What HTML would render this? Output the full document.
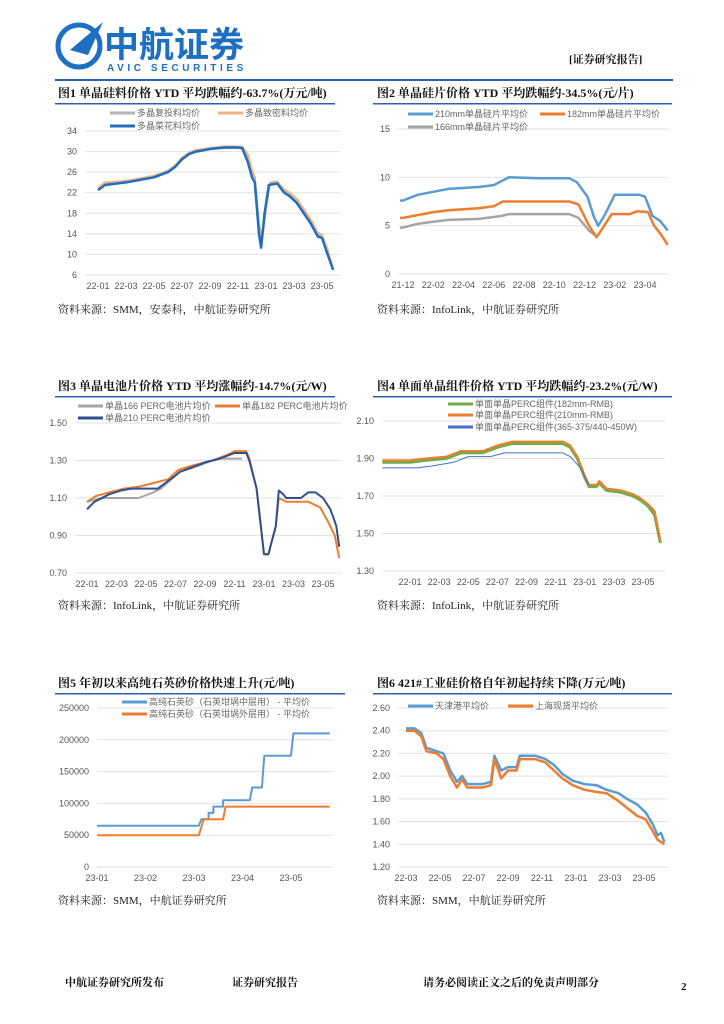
<!DOCTYPE html>
<html><head><meta charset="utf-8">
<style>
body{margin:0;background:#fff;}
svg{display:block;font-family:"Liberation Sans","Noto Sans CJK SC",sans-serif;}
.t{font-family:"Liberation Serif","Noto Serif CJK SC",serif;font-weight:bold;font-size:12px;fill:#111;}
.src{font-family:"Liberation Serif","Noto Serif CJK SC",serif;font-size:11px;fill:#222;}
.ax{font-size:9px;fill:#555;}
.lg{font-size:9px;fill:#666;}
.ft{font-family:"Liberation Serif","Noto Serif CJK SC",serif;font-weight:bold;font-size:11px;fill:#111;}
</style></head><body>
<svg id="page" width="724" height="1024" viewBox="0 0 724 1024">
<g>
  <circle cx="79" cy="46" r="21" fill="none" stroke="#1d6fc2" stroke-width="5"/>
  <path d="M70 50 L103 22 L88 55 Z" fill="#1d6fc2"/>
  <text x="104" y="57" font-size="35" font-weight="bold" fill="#1d6fc2" font-family="'Noto Sans CJK SC',sans-serif">中航证券</text>
  <text x="107" y="71" font-size="10" fill="#1d6fc2" letter-spacing="3.6" font-weight="bold">AVIC SECURITIES</text>
  <text x="569" y="63" class="ft" font-size="12">[证券研究报告]</text>
  <rect x="55" y="79" width="618" height="2" fill="#2e5fae"/>
</g>
<g id="charts"></g>
<g>
  <text x="65" y="986" class="ft">中航证券研究所发布</text>
  <text x="232" y="986" class="ft">证券研究报告</text>
  <text x="423" y="986" class="ft">请务必阅读正文之后的免责声明部分</text>
  <text x="681" y="990" class="ft" font-weight="normal">2</text>
</g>
</svg>
<script>
// ---------- Chart 1 data ----------
const c1Ticks=[34,30,26,22,18,14,10,6];
const c1XLabels=["22-01","22-03","22-05","22-07","22-09","22-11","23-01","23-03","23-05"];
const c1X_blue=[0,0.5,2,3,4,4.5,5,5.5,6,6.5,7,8,9,10,10.3,10.7,11.0,11.2,11.5,11.65,11.9,12.2,12.8,13.3,13.7,14.2,14.7,15.2,15.7,16.0,16.4,16.8];
const c1Y_blue=[22.5,23.5,24,24.5,25,25.5,26,27,28.5,29.5,30,30.5,30.8,30.8,30.7,28,25,24,14,11.3,18,23.5,23.8,22,21.3,20,18,16,13.5,13.2,10,7];
const c1X_gray=[0,0.5,2,3,4,4.5,5,5.5,6,6.5,7,8,9,10,10.3,10.7,11.0,11.2,11.5,11.7,12.0,12.3,12.8,13.3,13.7,14.2,14.7,15.2,15.7,16.0,16.4];
const c1Y_gray=[23,23.8,24.2,24.6,25,25.6,26,27,28.5,29.5,30.2,30.5,30.7,30.7,30.6,29,26,25,16,13,19,23.8,24,22.5,21.8,20.5,18.5,16.5,14,13.6,11];
const c1X_orange=[0,0.5,2,3,4,4.5,5,5.5,6,6.5,7,8,9,10,10.3,10.7,11.0,11.2,11.5,11.7,12.0,12.3,12.8,13.3,13.7,14.2,14.7,15.2,15.7,16.0,16.4,16.7];
const c1Y_orange=[23,24,24.3,24.8,25.3,25.8,26.3,27.3,28.8,29.8,30.3,30.7,31,31,30.9,29.5,26.5,25,15.5,12.5,19,24,24.2,22.6,22,20.8,18.8,16.8,14.2,13.8,11,8];
// ---------- Chart 2 data ----------
const c2Ticks=[15,10,5,0];
const c2XLabels=["21-12","22-02","22-04","22-06","22-08","22-10","22-12","23-02","23-04"];
const c2X_210=[-0.2,0,1,2,3,5,6,6.5,7,9,11,11.5,12.2,12.6,12.9,13.3,14,15.6,16,16.5,17,17.5];
const c2Y_210=[7.6,7.6,8.2,8.5,8.8,9,9.2,9.6,10,9.9,9.9,9.5,8,6,5,6,8.2,8.2,8,6,5.5,4.5];
const c2X_182=[-0.2,0,1,2,3,5,6,6.6,11,11.6,12.3,12.8,13.3,13.8,15,15.5,16.2,16.6,17.1,17.5];
const c2Y_182=[5.8,5.8,6.1,6.4,6.6,6.8,7.0,7.5,7.5,7.2,5,3.8,5,6.2,6.2,6.5,6.4,5,4,3];
const c2X_166=[-0.2,0,1,2,3,5,6.5,7,11,11.6,12.3,12.7];
const c2Y_166=[4.8,4.8,5.2,5.4,5.6,5.7,6,6.2,6.2,5.8,4.5,4.0];
// ---------- Chart 3 data ----------
const c3Ticks=[1.50,1.30,1.10,0.90,0.70];
const c3XLabels=["22-01","22-03","22-05","22-07","22-09","22-11","23-01","23-03","23-05"];
const c3X_210=[0,0.5,1.5,2.3,3,4.8,6.0,6.3,7,8,9,10,10.8,11.0,11.5,12.0,12.3,12.8,13.0,13.3,13.5,14.5,15,15.5,16,16.5,16.9,17.1];
const c3Y_210=[1.04,1.08,1.12,1.14,1.15,1.15,1.22,1.24,1.26,1.29,1.31,1.34,1.34,1.30,1.15,0.80,0.80,0.95,1.14,1.12,1.10,1.10,1.13,1.13,1.10,1.04,0.95,0.84];
const c3X_182=[0,0.6,1.5,2.5,3.5,4.5,5.5,6.2,7,8.5,9.5,10,10.8,11.0,11.5,12.0,12.3,12.8,13.0,13.5,15,15.8,16.3,16.8,17.1];
const c3Y_182=[1.08,1.11,1.13,1.15,1.16,1.18,1.20,1.25,1.27,1.30,1.33,1.35,1.35,1.31,1.15,0.80,0.80,0.95,1.10,1.08,1.08,1.05,0.98,0.90,0.78];
const c3X_166=[0,1,3.5,4.5,5.0,6.3,7.5,8.5,9,10.5];
const c3Y_166=[1.08,1.10,1.10,1.13,1.15,1.24,1.27,1.30,1.31,1.31];
// ---------- Chart 4 data ----------
const c4Ticks=[2.10,1.90,1.70,1.50,1.30];
const c4XLabels=["22-01","22-03","22-05","22-07","22-09","22-11","23-01","23-03","23-05"];
const c4X_182=[-1.9,0,1,2.5,3.5,5,6,7,10.5,11,11.5,12,12.3,12.8,13,13.5,14.5,15.3,15.8,16.3,16.8,17.2];
const c4Y_182=[1.88,1.88,1.89,1.90,1.93,1.93,1.96,1.98,1.98,1.96,1.90,1.80,1.75,1.75,1.77,1.73,1.72,1.70,1.68,1.65,1.60,1.45];
const c4X_210=[-1.9,0,1,2.5,3.5,5,6,7,10.5,11,11.5,12,12.3,12.8,13,13.5,14.5,15.3,15.8,16.3,16.8,17.2];
const c4Y_210=[1.89,1.89,1.90,1.91,1.94,1.94,1.97,1.99,1.99,1.97,1.91,1.81,1.76,1.76,1.78,1.74,1.73,1.71,1.69,1.66,1.62,1.46];
const c4X_w=[-1.9,0.5,1.5,3,4,5.5,6.5,10.5,11,11.7,12.3];
const c4Y_w=[1.85,1.85,1.86,1.88,1.91,1.91,1.93,1.93,1.91,1.85,1.76];
// ---------- Chart 5 data ----------
const c5Ticks=[250000,200000,150000,100000,50000,0];
const c5XLabels=["23-01","23-02","23-03","23-04","23-05"];
const c5X_mid=[0,2.1,2.15,2.3,2.3,2.4,2.4,2.6,2.6,3.15,3.2,3.4,3.45,4.0,4.05,4.8];
const c5Y_mid=[65000,65000,75000,75000,85000,85000,95000,95000,105000,105000,125000,125000,175000,175000,210000,210000];
const c5X_out=[0,2.1,2.2,2.6,2.65,4.8];
const c5Y_out=[50000,50000,75000,75000,95000,95000];
// ---------- Chart 6 data ----------
const c6Ticks=[2.60,2.40,2.20,2.00,1.80,1.60,1.40,1.20];
const c6XLabels=["22-03","22-05","22-07","22-09","22-11","23-01","23-03","23-05"];
const c6X_tj=[0,0.5,0.9,1.2,1.8,2.2,2.6,3.0,3.3,3.6,4.5,5.0,5.2,5.6,6,6.5,6.7,7.6,8.2,8.7,9.2,9.8,10.5,11.2,11.8,12.5,13,13.6,14.1,14.5,14.8,15.0,15.2];
const c6Y_tj=[2.42,2.42,2.38,2.25,2.22,2.20,2.05,1.95,2.00,1.93,1.93,1.95,2.18,2.05,2.08,2.08,2.18,2.18,2.15,2.10,2.02,1.96,1.93,1.92,1.88,1.85,1.80,1.75,1.68,1.58,1.48,1.50,1.42];
const c6X_sh=[0,0.5,0.9,1.2,1.8,2.2,2.6,3.0,3.3,3.6,4.5,5.0,5.2,5.6,6,6.5,6.7,7.6,8.2,8.7,9.2,9.8,10.5,11.2,11.8,12.5,13,13.6,14.1,14.5,14.8,15.0,15.2];
const c6Y_sh=[2.40,2.40,2.35,2.22,2.20,2.15,2.00,1.90,1.97,1.90,1.90,1.92,2.15,1.98,2.05,2.05,2.15,2.15,2.12,2.05,1.98,1.92,1.88,1.86,1.85,1.78,1.72,1.65,1.62,1.52,1.44,1.42,1.40];

const NS="http://www.w3.org/2000/svg";
const root=document.getElementById('charts');
function mk(tag,attrs,parent){const e=document.createElementNS(NS,tag);for(const k in attrs)e.setAttribute(k,attrs[k]);(parent||root).appendChild(e);return e;}

function chart(cfg){
  const g=mk('g',{});
  
  
  const tt=mk('text',{x:cfg.tx,y:cfg.ty,class:'t'},g);tt.textContent=cfg.title;
  
  
  const rule=mk('rect',{x:cfg.rx0,y:cfg.ty+6,width:cfg.rx1-cfg.rx0,height:1.5,fill:'#2e5fae'},g);
  
  
  const ymin=cfg.ticks[cfg.ticks.length-1],ymax=cfg.ticks[0];
  const yS=v=>cfg.yb+(v-ymin)/(ymax-ymin)*(cfg.yt-cfg.yb);
  const xS=v=>cfg.x0+v*cfg.dx;
  cfg.ticks.forEach(t=>{
    const y=yS(t);
    const gl=mk('line',{x1:cfg.gx0,x2:cfg.gx1,y1:y,y2:y,stroke:'#e2e2e2','stroke-width':1},g);
    
    
    const lb=mk('text',{x:cfg.gx0-8,y:y+3,'text-anchor':'end',class:'ax'},g);lb.textContent=cfg.fmt(t);
    
    
  });
  cfg.xlabels.forEach((l,i)=>{
    const lb=mk('text',{x:xS(i*cfg.xstep),y:cfg.yb+14,'text-anchor':'middle',class:'ax'},g);lb.textContent=l;
    
    
  });
  cfg.series.forEach(s=>{
    const d=s.xs.map((x,i)=>(i?'L':'M')+xS(x).toFixed(1)+' '+yS(s.ys[i]).toFixed(1)).join(' ');
    const p=mk('path',{d:d,fill:'none',stroke:s.c,'stroke-width':s.w,'stroke-linejoin':'round'},g);
    
    
    const ll=mk('line',{x1:s.lx,x2:s.lx+25,y1:s.ly,y2:s.ly,stroke:s.c,'stroke-width':Math.max(s.w,3)},g);
    
    
    const lt=mk('text',{x:s.lx+27,y:s.ly+3,class:'lg'},g);lt.textContent=s.label;
    
    
  });
  const sr=mk('text',{x:cfg.tx,y:cfg.sy,class:'src'},g);sr.textContent=cfg.src;
  
  
}
const f0=v=>String(v), f2=v=>v.toFixed(2);

chart({name:'chart-polysilicon',title:'图1  单晶硅料价格 YTD 平均跌幅约-63.7%(万元/吨)',tx:58,ty:97,rx0:55,rx1:335,
 ticks:c1Ticks,yt:131,yb:275,gx0:85,gx1:340,fmt:f0,xlabels:c1XLabels,x0:98,dx:14,xstep:2,sy:313,
 src:'资料来源：SMM，安泰科，中航证券研究所',
 series:[
  {name:'line-recharge',xs:c1X_gray,ys:c1Y_gray,c:'#b4b4b4',w:2,lx:110,ly:113,label:'多晶复投料均价'},
  {name:'line-dense',xs:c1X_orange,ys:c1Y_orange,c:'#f4b183',w:2,lx:218,ly:113,label:'多晶致密料均价'},
  {name:'line-cauliflower',xs:c1X_blue,ys:c1Y_blue,c:'#1f6fc0',w:2.5,lx:110,ly:126,label:'多晶菜花料均价'}]});

chart({name:'chart-wafer',title:'图2  单晶硅片价格 YTD 平均跌幅约-34.5%(元/片)',tx:377,ty:97,rx0:373,rx1:672,
 ticks:c2Ticks,yt:129,yb:274,gx0:398,gx1:668,fmt:f0,xlabels:c2XLabels,x0:403,dx:15.125,xstep:2,sy:313,
 src:'资料来源：InfoLink，中航证券研究所',
 series:[
  {name:'line-166mm',xs:c2X_166,ys:c2Y_166,c:'#a5a5a5',w:2.5,lx:408,ly:127,label:'166mm单晶硅片平均价'},
  {name:'line-210mm',xs:c2X_210,ys:c2Y_210,c:'#5b9bd5',w:2.5,lx:408,ly:114,label:'210mm单晶硅片平均价'},
  {name:'line-182mm',xs:c2X_182,ys:c2Y_182,c:'#ed7d31',w:2.5,lx:540,ly:114,label:'182mm单晶硅片平均价'}]});

chart({name:'chart-cell',title:'图3  单晶电池片价格 YTD 平均涨幅约-14.7%(元/W)',tx:58,ty:390,rx0:55,rx1:335,
 ticks:c3Ticks,yt:423,yb:573,gx0:75,gx1:342,fmt:f2,xlabels:c3XLabels,x0:87,dx:14.75,xstep:2,sy:609,
 src:'资料来源：InfoLink，中航证券研究所',
 series:[
  {name:'line-cell-166',xs:c3X_166,ys:c3Y_166,c:'#a5a5a5',w:2,lx:78,ly:406,label:'单晶166 PERC电池片均价'},
  {name:'line-cell-182',xs:c3X_182,ys:c3Y_182,c:'#ed7d31',w:2,lx:215,ly:406,label:'单晶182 PERC电池片均价'},
  {name:'line-cell-210',xs:c3X_210,ys:c3Y_210,c:'#2f4f8f',w:2,lx:78,ly:418,label:'单晶210 PERC电池片均价'}]});

chart({name:'chart-module',title:'图4  单面单晶组件价格 YTD 平均跌幅约-23.2%(元/W)',tx:377,ty:390,rx0:373,rx1:672,
 ticks:c4Ticks,yt:421,yb:571,gx0:382,gx1:665,fmt:f2,xlabels:c4XLabels,x0:410,dx:14.56,xstep:2,sy:609,
 src:'资料来源：InfoLink，中航证券研究所',
 series:[
  {name:'line-module-182',xs:c4X_182,ys:c4Y_182,c:'#70ad47',w:3,lx:448,ly:404,label:'单面单晶PERC组件(182mm-RMB)'},
  {name:'line-module-210',xs:c4X_210,ys:c4Y_210,c:'#ed7d31',w:2,lx:448,ly:415,label:'单面单晶PERC组件(210mm-RMB)'},
  {name:'line-module-w',xs:c4X_w,ys:c4Y_w,c:'#4472c4',w:1,lx:448,ly:427,label:'单面单晶PERC组件(365-375/440-450W)'}]});

chart({name:'chart-quartz',title:'图5  年初以来高纯石英砂价格快速上升(元/吨)',tx:58,ty:687,rx0:55,rx1:345,
 ticks:c5Ticks,yt:708,yb:867,gx0:97,gx1:333,fmt:f0,xlabels:c5XLabels,x0:97,dx:48.5,xstep:1,sy:904,
 src:'资料来源：SMM，中航证券研究所',
 series:[
  {name:'line-quartz-middle',xs:c5X_mid,ys:c5Y_mid,c:'#5b9bd5',w:2,lx:122,ly:702,label:'高纯石英砂（石英坩埚中层用） - 平均价'},
  {name:'line-quartz-outer',xs:c5X_out,ys:c5Y_out,c:'#ed7d31',w:2,lx:122,ly:714,label:'高纯石英砂（石英坩埚外层用） - 平均价'}]});

chart({name:'chart-silicon-metal',title:'图6  421#工业硅价格自年初起持续下降(万元/吨)',tx:377,ty:687,rx0:373,rx1:672,
 ticks:c6Ticks,yt:708,yb:867,gx0:398,gx1:668,fmt:f2,xlabels:c6XLabels,x0:406,dx:17,xstep:2,sy:904,
 src:'资料来源：SMM，中航证券研究所',
 series:[
  {name:'line-tianjin',xs:c6X_tj,ys:c6Y_tj,c:'#5b9bd5',w:2.5,lx:408,ly:706,label:'天津港平均价'},
  {name:'line-shanghai',xs:c6X_sh,ys:c6Y_sh,c:'#ed7d31',w:2.5,lx:508,ly:706,label:'上海现货平均价'}]});
</script>
</body></html>
